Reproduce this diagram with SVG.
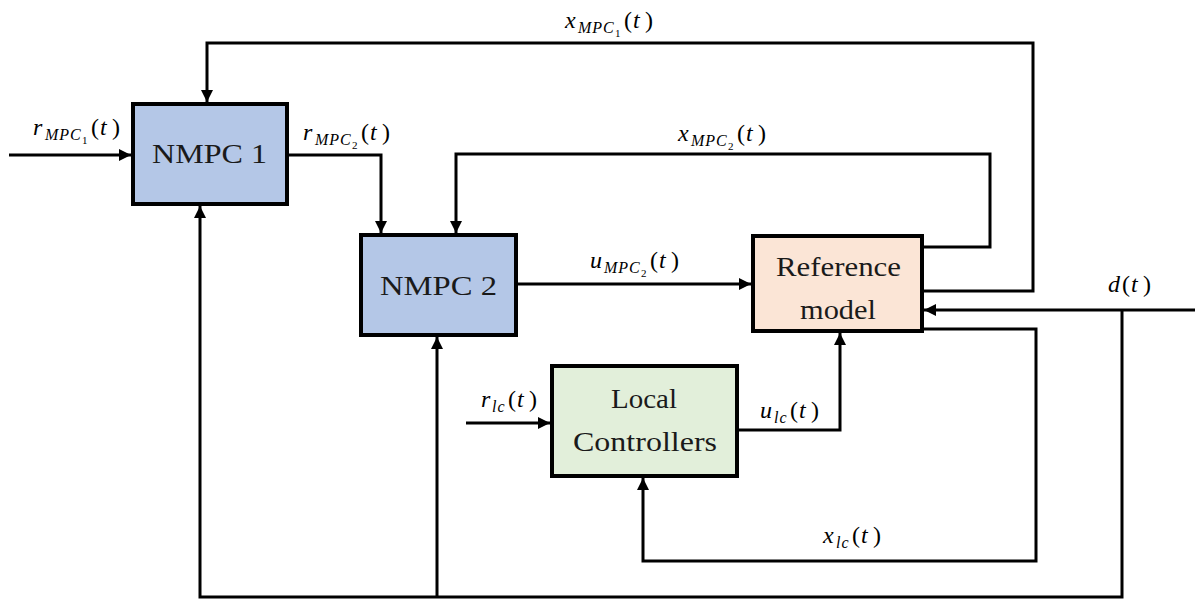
<svg xmlns="http://www.w3.org/2000/svg" width="1195" height="599" viewBox="0 0 1195 599">
  <style>
    .box { stroke: #000; stroke-width: 4; }
    .nmpc { fill: #b4c7e7; }
    .ref { fill: #fbe5d6; }
    .lc { fill: #e2efda; }
    .name { font-size: 27px; fill: #1a1a1a; }
    .wire { fill: none; stroke: #000; stroke-width: 3; stroke-linejoin: miter; }
    .math { font-size: 24px; fill: #000; }
    .it { font-style: italic; }
    .sub { font-style: italic; font-size: 16px; letter-spacing: 1px; }
    .subsub { font-size: 11px; }
  </style>
  <defs>
    <marker id="arrow" viewBox="0 0 12 12" refX="12" refY="6" markerWidth="12" markerHeight="12" markerUnits="userSpaceOnUse" orient="auto">
      <path d="M0,0 L12,6 L0,12 Z" fill="#000"/>
    </marker>
  </defs>

  <!-- signal lines -->
  <g id="connectors">
    <path class="wire" d="M9,155 H131" marker-end="url(#arrow)"/>
    <path class="wire" d="M289,155 H381 V233" marker-end="url(#arrow)"/>
    <path class="wire" d="M924,291 H1033 V43 H207 V102" marker-end="url(#arrow)"/>
    <path class="wire" d="M924,247 H990 V154 H456 V233" marker-end="url(#arrow)"/>
    <path class="wire" d="M518,284 H751" marker-end="url(#arrow)"/>
    <path class="wire" d="M1195,310 H924" marker-end="url(#arrow)"/>
    <path class="wire" d="M1122,310 V597 H200 V206" marker-end="url(#arrow)"/>
    <path class="wire" d="M437,597 V337" marker-end="url(#arrow)"/>
    <path class="wire" d="M924,329 H1036 V561 H643 V478" marker-end="url(#arrow)"/>
    <path class="wire" d="M739,430 H840 V333" marker-end="url(#arrow)"/>
    <path class="wire" d="M466,423 H550" marker-end="url(#arrow)"/>

    <!-- signal labels -->
    <g font-family="'Liberation Serif', 'Times New Roman', Tinos, 'Noto Serif', 'DejaVu Serif', serif">
      <text class="math" y="28"><tspan class="it" x="565">x</tspan><tspan class="sub" x="578" y="33">MPC</tspan><tspan class="subsub" x="615" y="37">1</tspan><tspan x="624" y="28">(</tspan><tspan class="it" x="633">t</tspan><tspan x="645">)</tspan></text>
      <text class="math" y="141"><tspan class="it" x="678">x</tspan><tspan class="sub" x="691" y="146">MPC</tspan><tspan class="subsub" x="728" y="150">2</tspan><tspan x="737" y="141">(</tspan><tspan class="it" x="746">t</tspan><tspan x="758">)</tspan></text>
      <text class="math" y="135"><tspan class="it" x="33">r</tspan><tspan class="sub" x="45" y="140">MPC</tspan><tspan class="subsub" x="82" y="144">1</tspan><tspan x="91" y="135">(</tspan><tspan class="it" x="100">t</tspan><tspan x="112">)</tspan></text>
      <text class="math" y="140"><tspan class="it" x="303">r</tspan><tspan class="sub" x="315" y="145">MPC</tspan><tspan class="subsub" x="352" y="149">2</tspan><tspan x="361" y="140">(</tspan><tspan class="it" x="370">t</tspan><tspan x="382">)</tspan></text>
      <text class="math" y="268"><tspan class="it" x="590">u</tspan><tspan class="sub" x="604" y="273">MPC</tspan><tspan class="subsub" x="641" y="277">2</tspan><tspan x="650" y="268">(</tspan><tspan class="it" x="659">t</tspan><tspan x="671">)</tspan></text>
      <text class="math" y="292"><tspan class="it" x="1108">d</tspan><tspan x="1122">(</tspan><tspan class="it" x="1131">t</tspan><tspan x="1143">)</tspan></text>
      <text class="math" y="407"><tspan class="it" x="481">r</tspan><tspan class="sub" x="492" y="412" letter-spacing="0">lc</tspan><tspan x="508" y="407">(</tspan><tspan class="it" x="517">t</tspan><tspan x="529">)</tspan></text>
      <text class="math" y="418"><tspan class="it" x="760">u</tspan><tspan class="sub" x="774" y="423" letter-spacing="0">lc</tspan><tspan x="790" y="418">(</tspan><tspan class="it" x="799">t</tspan><tspan x="811">)</tspan></text>
      <text class="math" y="543"><tspan class="it" x="823">x</tspan><tspan class="sub" x="836" y="548" letter-spacing="0">lc</tspan><tspan x="852" y="543">(</tspan><tspan class="it" x="861">t</tspan><tspan x="873">)</tspan></text>
    </g>
  </g>

  <g font-family="'Liberation Serif', 'Times New Roman', Tinos, 'Noto Serif', 'DejaVu Serif', serif">
    <g id="nmpc1">
      <rect class="box nmpc" x="133" y="104" width="154" height="100"/>
      <text class="name" x="152" y="163" textLength="115" lengthAdjust="spacingAndGlyphs">NMPC 1</text>
    </g>

    <g id="nmpc2">
      <rect class="box nmpc" x="361" y="235" width="155" height="100"/>
      <text class="name" x="380" y="295" textLength="117" lengthAdjust="spacingAndGlyphs">NMPC 2</text>
    </g>

    <g id="reference-model">
      <rect class="box ref" x="753" y="236" width="169" height="95"/>
      <text class="name" x="776" y="276" textLength="125" lengthAdjust="spacingAndGlyphs">Reference</text>
      <text class="name" x="800" y="319" textLength="76" lengthAdjust="spacingAndGlyphs">model</text>
    </g>

    <g id="local-controllers">
      <rect class="box lc" x="552" y="366" width="185" height="110"/>
      <text class="name" x="611" y="408" textLength="66" lengthAdjust="spacingAndGlyphs">Local</text>
      <text class="name" x="573" y="451" textLength="144" lengthAdjust="spacingAndGlyphs">Controllers</text>
    </g>
  </g>
</svg>
